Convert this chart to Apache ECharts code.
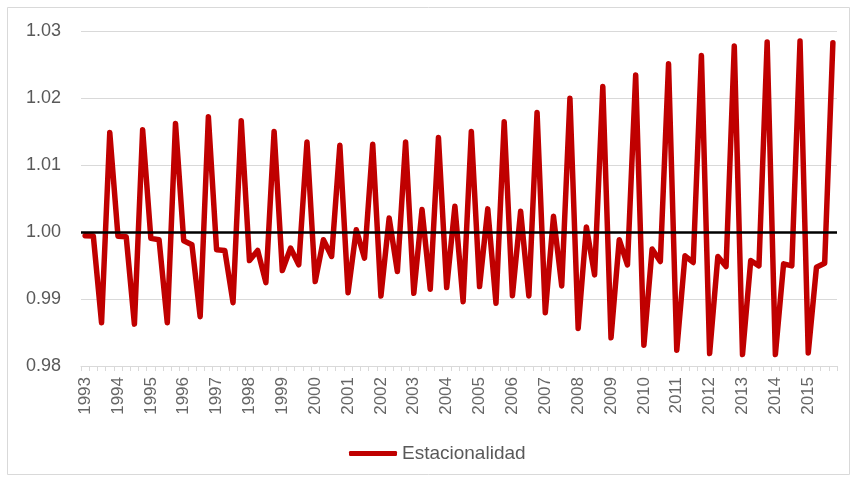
<!DOCTYPE html>
<html>
<head>
<meta charset="utf-8">
<script src="https://cdn.jsdelivr.net/npm/echarts@6/dist/echarts.min.js"></script>
<style>html,body{margin:0;padding:0;background:#fff}#c{width:852px;height:479px}</style>
</head>
<body>
<div id="c"></div>
<script>
const years = ["1993","1994","1995","1996","1997","1998","1999","2000","2001","2002","2003","2004","2005","2006","2007","2008","2009","2010","2011","2012","2013","2014","2015"];
const quarters = ["T1","T2","T3","T4"];
const seriesName = "Estacionalidad";
const estacionalidad = [
  0.99945, 0.9994, 0.98645, 1.01485,
  0.99935, 0.9993, 0.98625, 1.01525,
  0.99905, 0.99885, 0.98645, 1.0162,
  0.9987, 0.9981, 0.98735, 1.0172,
  0.99735, 0.99725, 0.98945, 1.0166,
  0.99575, 0.99725, 0.99245, 1.015,
  0.99425, 0.9976, 0.9951, 1.01345,
  0.9926, 0.99885, 0.99635, 1.01295,
  0.99095, 1.00035, 0.9961, 1.0131,
  0.99045, 1.0021, 0.9941, 1.01345,
  0.99085, 1.00335, 0.99145, 1.0141,
  0.9917, 1.00385, 0.9896, 1.015,
  0.99185, 1.00345, 0.98935, 1.01645,
  0.9905, 1.0031, 0.99045, 1.01785,
  0.98795, 1.00235, 0.99195, 1.01995,
  0.9856, 1.00075, 0.9936, 1.0217,
  0.9842, 0.99885, 0.9951, 1.02345,
  0.9831, 0.99745, 0.9956, 1.0251,
  0.98235, 0.99645, 0.99545, 1.02635,
  0.98185, 0.99635, 0.99485, 1.02775,
  0.9817, 0.99575, 0.99495, 1.02835,
  0.9817, 0.99525, 0.99495, 1.0285,
  0.98195, 0.99475, 0.99535, 1.02825
];
const referenceLevel = 1.00;
const yTicks = [0.98, 0.99, 1.00, 1.01, 1.02, 1.03];

const categories = [];
years.forEach(y => quarters.forEach(q => categories.push(y + " " + q)));

const chart = echarts.init(document.getElementById('c'), null, {renderer: 'canvas'});
const font = 'Liberation Sans';
chart.setOption({
  animation: false,
  backgroundColor: '#fff',
  graphic: [{
    type: 'rect', silent: true, z: -10,
    shape: {x: 7.5, y: 7.5, width: 842, height: 467},
    style: {fill: 'none', stroke: '#d9d9d9', lineWidth: 1}
  }],
  grid: {left: 81, right: 15, top: 31, bottom: 113, containLabel: false},
  legend: {
    top: 439, left: 344,
    data: [{name: seriesName, icon: 'roundRect'}],
    itemWidth: 48, itemHeight: 5, itemGap: 5,
    textStyle: {color: '#595959', fontSize: 19, fontFamily: font}
  },
  xAxis: {
    type: 'category',
    data: categories,
    boundaryGap: true,
    axisLine: {lineStyle: {color: '#d9d9d9', width: 1}},
    axisTick: {show: true, interval: 0, length: 5, lineStyle: {color: '#d9d9d9'}},
    axisLabel: {
      interval: 3, rotate: 90, color: '#666666', fontSize: 17, fontFamily: font, margin: 11,
      formatter: v => v.split(' ')[0]
    },
    splitLine: {show: false}
  },
  yAxis: {
    type: 'value',
    min: yTicks[0], max: yTicks[yTicks.length - 1], interval: 0.01,
    axisLine: {show: false}, axisTick: {show: false},
    axisLabel: {color: '#595959', fontSize: 18, fontFamily: font, margin: 20, formatter: v => v.toFixed(2)},
    splitLine: {lineStyle: {color: '#d9d9d9', width: 1}}
  },
  series: [{
    name: seriesName,
    type: 'line',
    data: estacionalidad,
    showSymbol: false,
    symbol: 'none',
    lineStyle: {color: '#C00000', width: 5.5, join: 'round', cap: 'round'},
    itemStyle: {color: '#C00000'},
    markLine: {
      silent: true, symbol: 'none', z: 10,
      label: {show: false},
      lineStyle: {color: '#000', width: 2.5, type: 'solid'},
      data: [{yAxis: referenceLevel}]
    }
  }]
});
</script>
</body>
</html>
